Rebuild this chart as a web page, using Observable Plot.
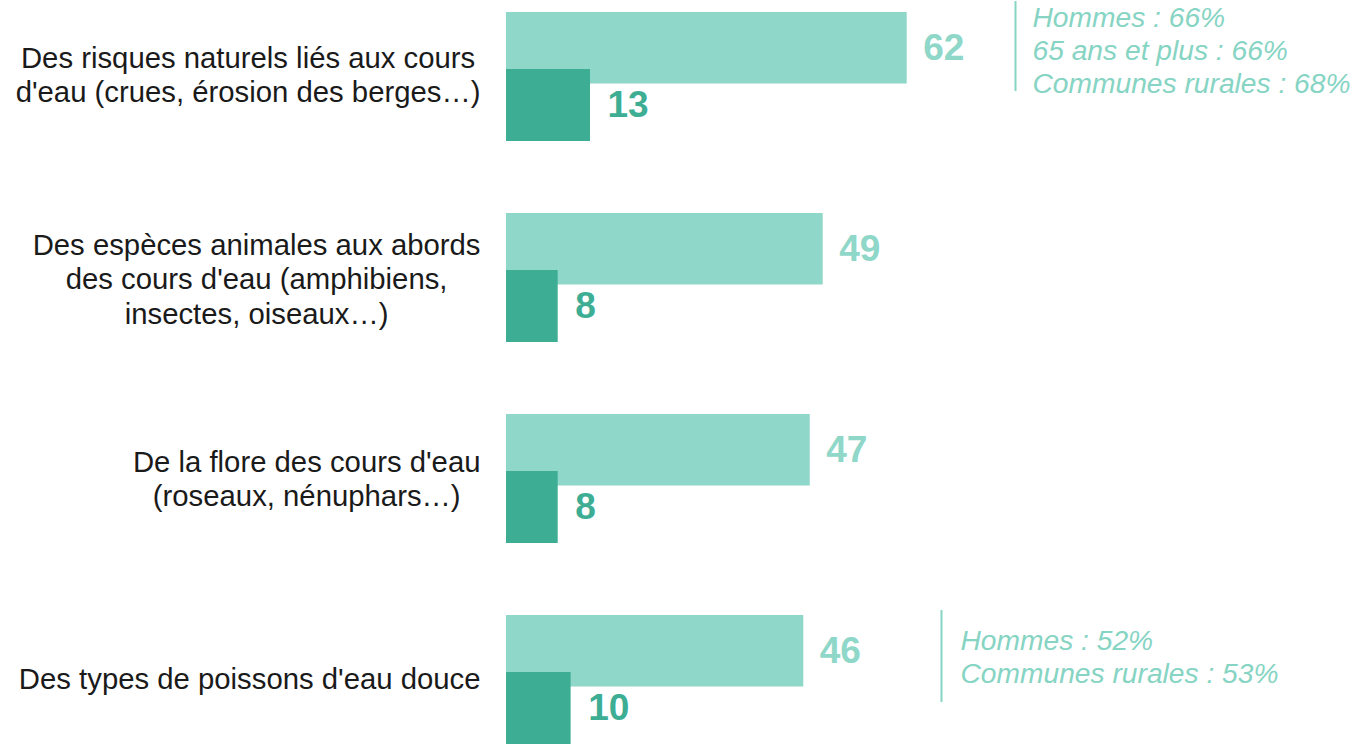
<!DOCTYPE html>
<html>
<head>
<meta charset="utf-8">
<script src="https://cdn.jsdelivr.net/npm/d3@7"></script>
<script src="https://cdn.jsdelivr.net/npm/@observablehq/plot@0.6"></script>
<style>
  html, body { margin: 0; padding: 0; background: #fff; }
  #chart svg { display: block; }
</style>
</head>
<body>
<div id="chart"></div>
<script>
// ---- data ----
const categories = [
  "Des risques naturels liés aux cours\nd'eau (crues, érosion des berges…)",
  "Des espèces animales aux abords\ndes cours d'eau (amphibiens,\ninsectes, oiseaux…)",
  "De la flore des cours d'eau\n(roseaux, nénuphars…)",
  "Des types de poissons d'eau douce"
];
const totalValues = [62, 49, 47, 46];
const subValues = [13, 8, 8, 10];
const annotationCategories = [categories[0], categories[3]];
const annotationTexts = [
  "Hommes : 66%\n65 ans et plus : 66%\nCommunes rurales : 68%",
  "Hommes : 52%\nCommunes rurales : 53%"
];

// ---- styles ----
const light = "#8fd7c8";
const dark = "#3dae94";
const noteColor = "#86d4c3";
const font = "'Liberation Sans', Arial, Helvetica, sans-serif";
const labelSize = 29.3;
const noteSize = 28.2;

const data = categories.map((c, i) => ({cat: c, total: totalValues[i], sub: subValues[i]}));

// measure label block widths so each block is right-aligned, lines centred
const ctx = document.createElement("canvas").getContext("2d");
ctx.font = `${labelSize}px ${font}`;
const labelRight = 480;
const labelCenters = categories.map(c => {
  const w = Math.max(...c.split("\n").map(l => ctx.measureText(l).width));
  return labelRight - w / 2;
});
const labelShift = [-3, 0, -1, -2];

const labelMarks = categories.map((c, i) => Plot.text([c], {
  y: d => d, text: d => d, frameAnchor: "left", dx: labelCenters[i], dy: labelShift[i],
  textAnchor: "middle", lineAnchor: "middle", fontSize: labelSize, lineHeight: 1.18,
  fill: "#1a1a1a"
}));

const noteRows = annotationCategories.map(c => data.find(d => d.cat === c));

const chart = Plot.plot({
  width: 1353,
  height: 744,
  margin: 0,
  style: {fontFamily: font, background: "#fff", overflow: "visible"},
  x: {domain: [0, 62], range: [506, 906.7], axis: null},
  y: {domain: categories, range: [11, 744], paddingInner: 0.3593, paddingOuter: 0, axis: null},
  marks: [
    Plot.barX(data, {x: "total", y: "cat", fill: light, insetBottom: 57.5}),
    Plot.barX(data, {x: "sub", y: "cat", fill: dark, insetTop: 57}),
    Plot.text(data, {x: "total", y: "cat", text: d => String(d.total), dx: 16, dy: -28.75,
      textAnchor: "start", fontSize: 37, fontWeight: "bold", fill: light}),
    Plot.text(data, {x: "sub", y: "cat", text: d => String(d.sub), dx: 17, dy: 28.5,
      textAnchor: "start", fontSize: 37, fontWeight: "bold", fill: dark}),
    ...labelMarks,
    // annotation 1
    Plot.tickX([noteRows[0]], {x: "total", y: "cat", dx: 108.3,
      insetTop: -11, insetBottom: 50, stroke: noteColor, strokeWidth: 2}),
    Plot.text([annotationTexts[0]], {y: () => annotationCategories[0], text: d => d, frameAnchor: "left",
      dx: 1032, dy: -27.5, textAnchor: "start", fontSize: noteSize, fontStyle: "italic", lineHeight: 1.17, fill: noteColor}),
    // annotation 2
    Plot.tickX([noteRows[1]], {x: "total", y: "cat", dx: 137.7,
      insetTop: -5, insetBottom: 42, stroke: noteColor, strokeWidth: 2}),
    Plot.text([annotationTexts[1]], {y: () => annotationCategories[1], text: d => d, frameAnchor: "left",
      dx: 960, dy: -24, textAnchor: "start", fontSize: noteSize, fontStyle: "italic", lineHeight: 1.17, fill: noteColor})
  ]
});
document.getElementById("chart").appendChild(chart);
</script>
</body>
</html>
